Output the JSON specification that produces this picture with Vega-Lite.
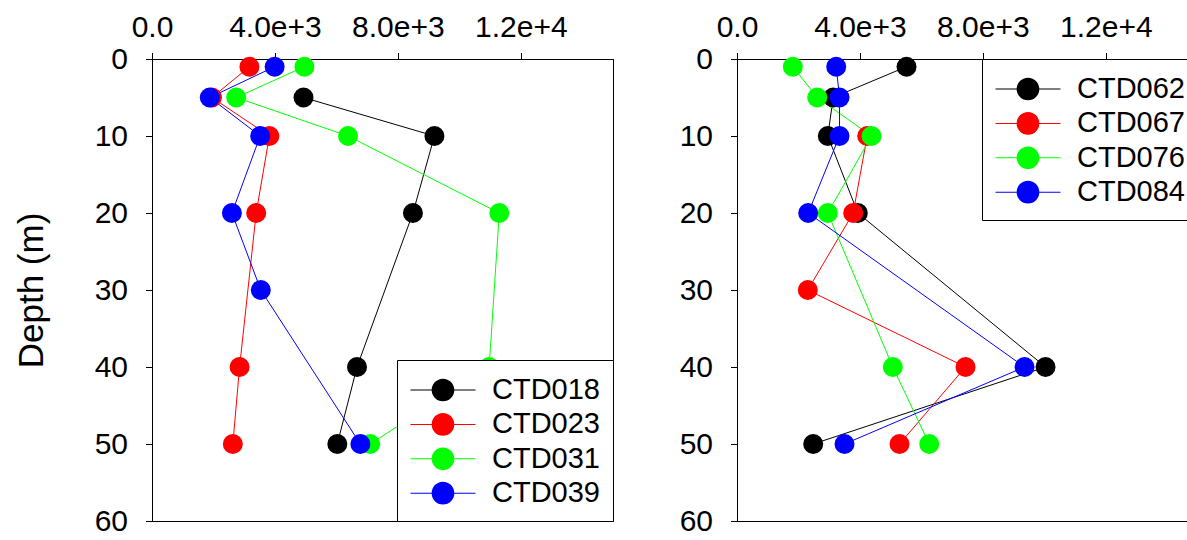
{
  "$schema": "https://vega.github.io/schema/vega-lite/v6.json",
  "padding": {"left": 13, "top": 12, "right": 0, "bottom": 0},
  "config": {
    "font": "Liberation Sans",
    "view": {"stroke": "black", "strokeWidth": 1},
    "axis": {
      "labelFontSize": 30, "labelColor": "black", "domainColor": "black", "tickColor": "black",
      "tickSize": 6.5, "tickWidth": 1, "domainWidth": 1, "grid": false,
      "labelFlush": false, "labelOverlap": false, "titleFontWeight": "normal", "titleColor": "black"
    }
  },
  "datasets": {
    "left": [
      {"station": "CTD018", "depth": 5, "value": 4930},
      {"station": "CTD018", "depth": 10, "value": 9190},
      {"station": "CTD018", "depth": 20, "value": 8490},
      {"station": "CTD018", "depth": 40, "value": 6670},
      {"station": "CTD018", "depth": 50, "value": 6030},
      {"station": "CTD023", "depth": 1, "value": 3170},
      {"station": "CTD023", "depth": 5, "value": 1950},
      {"station": "CTD023", "depth": 10, "value": 3820},
      {"station": "CTD023", "depth": 20, "value": 3390},
      {"station": "CTD023", "depth": 40, "value": 2850},
      {"station": "CTD023", "depth": 50, "value": 2630},
      {"station": "CTD031", "depth": 1, "value": 4960},
      {"station": "CTD031", "depth": 5, "value": 2740},
      {"station": "CTD031", "depth": 10, "value": 6380},
      {"station": "CTD031", "depth": 20, "value": 11300},
      {"station": "CTD031", "depth": 40, "value": 10970},
      {"station": "CTD031", "depth": 50, "value": 7100},
      {"station": "CTD039", "depth": 1, "value": 3990},
      {"station": "CTD039", "depth": 5, "value": 1880},
      {"station": "CTD039", "depth": 10, "value": 3520},
      {"station": "CTD039", "depth": 20, "value": 2600},
      {"station": "CTD039", "depth": 30, "value": 3540},
      {"station": "CTD039", "depth": 50, "value": 6780}
    ],
    "right": [
      {"station": "CTD062", "depth": 1, "value": 5516},
      {"station": "CTD062", "depth": 5, "value": 3130},
      {"station": "CTD062", "depth": 10, "value": 2955},
      {"station": "CTD062", "depth": 20, "value": 3931},
      {"station": "CTD062", "depth": 40, "value": 10039},
      {"station": "CTD062", "depth": 50, "value": 2480},
      {"station": "CTD067", "depth": 10, "value": 4237},
      {"station": "CTD067", "depth": 20, "value": 3781},
      {"station": "CTD067", "depth": 30, "value": 2304},
      {"station": "CTD067", "depth": 40, "value": 7436},
      {"station": "CTD067", "depth": 50, "value": 5288},
      {"station": "CTD076", "depth": 1, "value": 1816},
      {"station": "CTD076", "depth": 5, "value": 2610},
      {"station": "CTD076", "depth": 10, "value": 4377},
      {"station": "CTD076", "depth": 20, "value": 2955},
      {"station": "CTD076", "depth": 40, "value": 5070},
      {"station": "CTD076", "depth": 50, "value": 6255},
      {"station": "CTD084", "depth": 1, "value": 3228},
      {"station": "CTD084", "depth": 5, "value": 3336},
      {"station": "CTD084", "depth": 10, "value": 3336},
      {"station": "CTD084", "depth": 20, "value": 2317},
      {"station": "CTD084", "depth": 40, "value": 9356},
      {"station": "CTD084", "depth": 50, "value": 3498}
    ]
  },
  "spacing": 64,
  "resolve": {
    "scale": {"color": "independent", "stroke": "independent"},
    "legend": {"color": "independent", "stroke": "independent"}
  },
  "hconcat": [
    {
      "width": 461, "height": 462,
      "data": {"name": "left"},
      "layer": [
        {
          "mark": {"type": "line", "strokeWidth": 1},
          "encoding": {
            "x": {"field": "value", "type": "quantitative",
              "scale": {"domain": [0, 15000], "nice": false, "zero": false},
              "axis": {"orient": "top", "values": [0, 4000, 8000, 12000], "labelPadding": 10, "title": null,
                "labelExpr": "datum.value == 0 ? '0.0' : format(datum.value, '.1e')"}},
            "y": {"field": "depth", "type": "quantitative",
              "scale": {"domain": [0, 60], "reverse": true, "nice": false, "zero": false},
              "axis": {"values": [0, 10, 20, 30, 40, 50, 60], "labelPadding": 18, "title": "Depth (m)",
                "titleFontSize": 35, "titlePadding": 45}},
            "stroke": {"field": "station", "type": "nominal",
              "scale": {"range": ["#000000", "#ff0000", "#00ff00", "#0000ff"]},
              "legend": null},
            "order": {"field": "depth", "type": "quantitative"}
          }
        },
        {
          "mark": {"type": "point", "filled": true, "opacity": 1, "size": 400},
          "encoding": {
            "x": {"field": "value", "type": "quantitative"},
            "y": {"field": "depth", "type": "quantitative"},
            "color": {"field": "station", "type": "nominal",
              "scale": {"domain": ["CTD018", "CTD023", "CTD031", "CTD039"], "range": ["#000000", "#ff0000", "#00ff00", "#0000ff"]},
              "legend": {"title": null, "orient": "bottom-right", "offset": 0, "padding": 12.5,
                "strokeColor": "black", "fillColor": "white", "cornerRadius": 0,
                "labelFontSize": 29, "labelColor": "black", "labelOffset": 31.5, "symbolOffset": 16,
                "rowPadding": 1.4, "labelLimit": 300, "symbolSize": 1225, "symbolStrokeWidth": 0, "symbolOpacity": 1,
                "symbolType": "M-1.857,-0.029H1.857V0.029H-1.857ZM0.648,0A0.648,0.648,0,1,1,-0.648,0A0.648,0.648,0,1,1,0.648,0Z"}}
          }
        }
      ]
    },
    {
      "width": 461, "height": 462,
      "data": {"name": "right"},
      "layer": [
        {
          "mark": {"type": "line", "strokeWidth": 1},
          "encoding": {
            "x": {"field": "value", "type": "quantitative",
              "scale": {"domain": [0, 15000], "nice": false, "zero": false},
              "axis": {"orient": "top", "values": [0, 4000, 8000, 12000], "labelPadding": 10, "title": null,
                "labelExpr": "datum.value == 0 ? '0.0' : format(datum.value, '.1e')"}},
            "y": {"field": "depth", "type": "quantitative",
              "scale": {"domain": [0, 60], "reverse": true, "nice": false, "zero": false},
              "axis": {"values": [0, 10, 20, 30, 40, 50, 60], "labelPadding": 18, "title": null}},
            "stroke": {"field": "station", "type": "nominal",
              "scale": {"range": ["#000000", "#ff0000", "#00ff00", "#0000ff"]},
              "legend": null},
            "order": {"field": "depth", "type": "quantitative"}
          }
        },
        {
          "mark": {"type": "point", "filled": true, "opacity": 1, "size": 400},
          "encoding": {
            "x": {"field": "value", "type": "quantitative"},
            "y": {"field": "depth", "type": "quantitative"},
            "color": {"field": "station", "type": "nominal",
              "scale": {"domain": ["CTD062", "CTD067", "CTD076", "CTD084"], "range": ["#000000", "#ff0000", "#00ff00", "#0000ff"]},
              "legend": {"title": null, "orient": "top-right", "offset": 0, "padding": 12.5,
                "strokeColor": "black", "fillColor": "white", "cornerRadius": 0,
                "labelFontSize": 29, "labelColor": "black", "labelOffset": 31.5, "symbolOffset": 16,
                "rowPadding": 1.4, "labelLimit": 300, "symbolSize": 1225, "symbolStrokeWidth": 0, "symbolOpacity": 1,
                "symbolType": "M-1.857,-0.029H1.857V0.029H-1.857ZM0.648,0A0.648,0.648,0,1,1,-0.648,0A0.648,0.648,0,1,1,0.648,0Z"}}
          }
        }
      ]
    }
  ]
}
